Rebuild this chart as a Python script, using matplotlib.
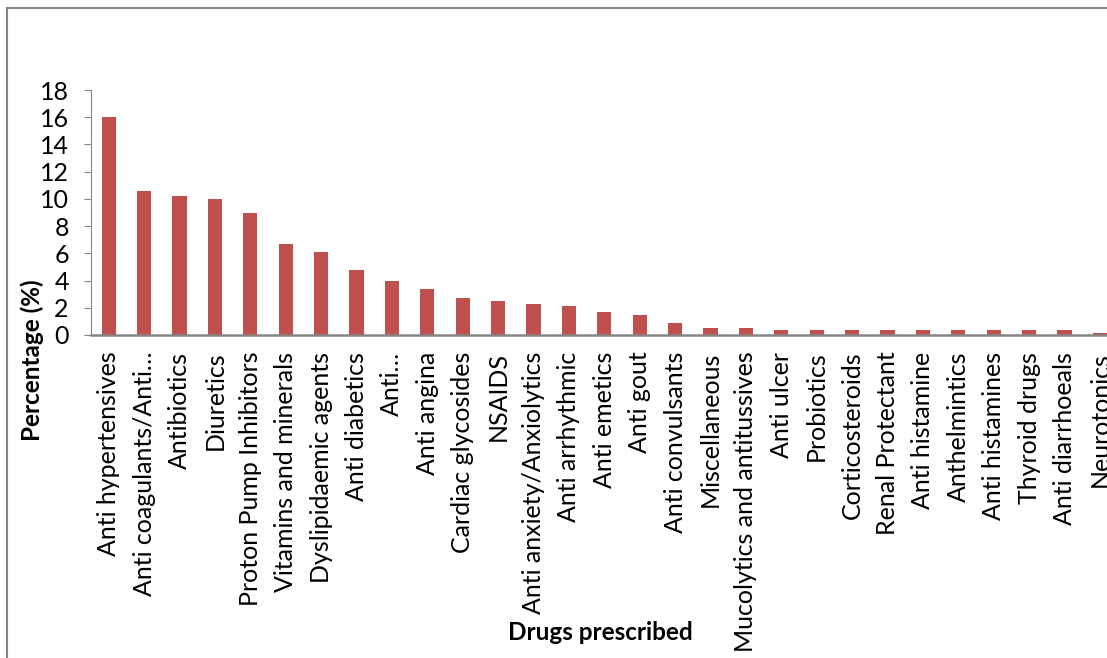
import numpy as np
import matplotlib
matplotlib.use('Agg')
from matplotlib import pyplot as plt
from matplotlib.patches import Rectangle

drug_classes = ['Anti hypertensives', 'Anti coagulants/Anti\u2026', 'Antibiotics',
                'Diuretics', 'Proton Pump Inhibitors', 'Vitamins and minerals',
                'Dyslipidaemic agents', 'Anti diabetics', 'Anti\u2026', 'Anti angina',
                'Cardiac glycosides', 'NSAIDS', 'Anti anxiety/Anxiolytics',
                'Anti arrhythmic', 'Anti emetics', 'Anti gout', 'Anti convulsants',
                'Miscellaneous', 'Mucolytics and antitussives', 'Anti ulcer',
                'Probiotics', 'Corticosteroids', 'Renal Protectant', 'Anti histamine',
                'Anthelmintics', 'Anti histamines', 'Thyroid drugs', 'Anti diarrhoeals',
                'Neurotonics']
percentages = [16.0, 10.6, 10.2, 10.0, 9.0, 6.7, 6.1, 4.8, 4.0, 3.4,
               2.7, 2.5, 2.3, 2.1, 1.7, 1.5, 0.9, 0.55, 0.55, 0.35,
               0.35, 0.35, 0.35, 0.35, 0.35, 0.35, 0.35, 0.35, 0.15]
y_ticks = [0, 2, 4, 6, 8, 10, 12, 14, 16, 18]

plt.rcParams['font.family'] = ['Lato', 'DejaVu Sans']

W, H = 1107, 658
fig = plt.figure(figsize=(W / 100, H / 100), dpi=100)

# chart frame (runs off the right and bottom edges)
fig.patches.append(Rectangle((7 / W, -0.1), 1.2, 1 - 8 / H + 0.1,
                             transform=fig.transFigure, fill=False,
                             edgecolor='#868686', linewidth=1.5))

# plot area in pixels: left 91, bottom 335, top 90, 35.4 px per category
left, bottom, top = 91, 335, 90
ax = fig.add_axes([left / W, 1 - bottom / H, 29 * 35.4 / W, (bottom - top) / H])

x = np.arange(len(drug_classes))
ax.bar(x, percentages, width=0.4, color='#C0504D')

ax.set_xlim(-0.5, len(drug_classes) - 0.5)
ax.set_ylim(0, 18)
ax.set_yticks(y_ticks)
ax.set_xticks(x)
ax.set_xticklabels(drug_classes, rotation=90, ha='center', va='top')

for s in ['top', 'right']:
    ax.spines[s].set_visible(False)
ax.spines['left'].set_color('#868686')
ax.spines['bottom'].set_color('#868686')
ax.spines['bottom'].set_linewidth(1.8)
ax.tick_params(axis='y', direction='out', length=5, color='#868686',
               labelsize=18, pad=11)
ax.tick_params(axis='x', length=0, labelsize=18, pad=12)

fig.text(32 / W, 1 - 360 / H, 'Percentage (%)', rotation=90, fontsize=17.5,
         fontweight='bold', ha='center', va='center')
fig.text(600 / W, 1 - 632 / H, 'Drugs prescribed', fontsize=17.5,
         fontweight='bold', ha='center', va='center')

fig.savefig('out.png', dpi=100)
